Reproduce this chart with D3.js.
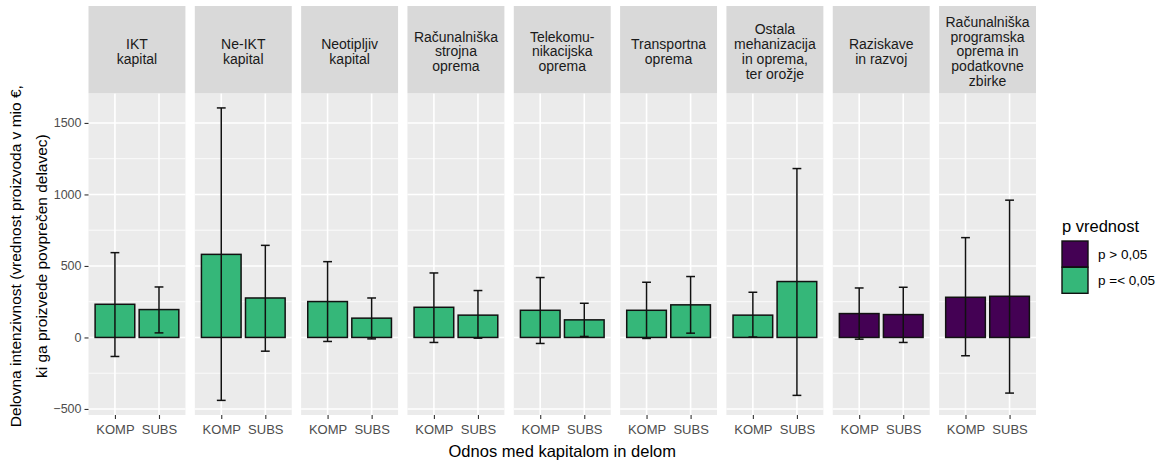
<!DOCTYPE html>
<html>
<head>
<meta charset="utf-8">
<script src="https://cdn.jsdelivr.net/npm/d3@7"></script>
<style>
  body { margin: 0; background: #fff; }
  text { font-family: "Liberation Sans", Arial, sans-serif; }
</style>
</head>
<body>
<div id="chart"></div>
<script>
// podatki, odčitani s slike
var facets = [
  ["IKT", "kapital"],
  ["Ne-IKT", "kapital"],
  ["Neotipljiv", "kapital"],
  ["Računalniška", "strojna", "oprema"],
  ["Telekomu-", "nikacijska", "oprema"],
  ["Transportna", "oprema"],
  ["Ostala", "mehanizacija", "in oprema,", "ter orožje"],
  ["Raziskave", "in razvoj"],
  ["Računalniška", "programska", "oprema in", "podatkovne", "zbirke"]
];
var groups = ["KOMP", "SUBS"];
var meanKomp = [232, 581, 251, 211, 190, 190, 156, 167, 281];
var meanSubs = [195, 276, 135, 156, 123, 228, 391, 160, 288];
var lowKomp = [-133, -440, -28, -35, -42, -7, 3, -12, -128];
var highKomp = [593, 1605, 530, 451, 419, 386, 316, 346, 698];
var lowSubs = [32, -96, -10, -5, 7, 30, -405, -35, -389];
var highSubs = [353, 644, 276, 328, 239, 426, 1181, 351, 960];
var pValue = ["p =< 0,05", "p =< 0,05", "p =< 0,05", "p =< 0,05", "p =< 0,05",
              "p =< 0,05", "p =< 0,05", "p > 0,05", "p > 0,05"];
var legendLabels = ["p > 0,05", "p =< 0,05"];
var yTicks = [-500, 0, 500, 1000, 1500];
var yMinor = [-250, 250, 750, 1250];

var width = 1162, height = 461;
var panelLeft = 88.5, panelRight = 1036, gap = 9.3;
var stripTop = 6, panelTop = 93.3, panelBottom = 415;

var svg = d3.select("#chart").append("svg")
  .attr("width", width)
  .attr("height", height);

// vrstice podatkov
var rows = [];
facets.forEach(function(f, i) {
  rows.push({ facet: i, group: "KOMP", mean: meanKomp[i], low: lowKomp[i], high: highKomp[i], p: pValue[i] });
  rows.push({ facet: i, group: "SUBS", mean: meanSubs[i], low: lowSubs[i], high: highSubs[i], p: pValue[i] });
});

var lo = d3.min(rows, d => d.low), hi = d3.max(rows, d => d.high);
var pad = (hi - lo) * 0.05;
var y = d3.scaleLinear().domain([lo - pad, hi + pad]).range([panelBottom, panelTop]);

var facetX = d3.scaleBand()
  .domain(d3.range(facets.length))
  .range([panelLeft, panelRight])
  .paddingInner(gap / ((panelRight - panelLeft) / facets.length));
var pw = facetX.bandwidth();

// diskretna os znotraj panela (ggplot razširitev 0.6)
var x = d3.scalePoint().domain(groups).range([pw * 0.6 / 2.2, pw * 1.6 / 2.2]);
var unit = pw / 2.2;

var color = d3.scaleOrdinal().domain(legendLabels).range(["#440154", "#35B779"]);

facets.forEach(function(lines, i) {
  var g = svg.append("g").attr("transform", "translate(" + facetX(i) + ",0)");

  g.append("rect")
    .attr("x", 0).attr("y", panelTop)
    .attr("width", pw).attr("height", panelBottom - panelTop)
    .attr("fill", "#EBEBEB");

  g.selectAll(".minor").data(yMinor).enter().append("line")
    .attr("x1", 0).attr("x2", pw)
    .attr("y1", d => y(d)).attr("y2", d => y(d))
    .attr("stroke", "#fff").attr("stroke-width", 0.8);

  g.selectAll(".major").data(yTicks).enter().append("line")
    .attr("x1", 0).attr("x2", pw)
    .attr("y1", d => y(d)).attr("y2", d => y(d))
    .attr("stroke", "#fff").attr("stroke-width", 1.6);

  g.selectAll(".vmajor").data(groups).enter().append("line")
    .attr("x1", d => x(d)).attr("x2", d => x(d))
    .attr("y1", panelTop).attr("y2", panelBottom)
    .attr("stroke", "#fff").attr("stroke-width", 1.6);

  // trak z imenom
  g.append("rect")
    .attr("x", 0).attr("y", stripTop)
    .attr("width", pw).attr("height", panelTop - stripTop)
    .attr("fill", "#D9D9D9");

  var lh = 14.8;
  var cy = 51.5 - (lines.length - 1) * lh / 2;
  g.append("text")
    .attr("text-anchor", "middle")
    .attr("font-size", 14)
    .attr("fill", "#1A1A1A")
    .selectAll("tspan").data(lines).enter().append("tspan")
    .attr("x", pw / 2)
    .attr("y", (d, j) => cy + j * lh)
    .attr("dy", "0.35em")
    .text(d => d);

  var data = rows.filter(r => r.facet === i);

  g.selectAll(".bar").data(data).enter().append("rect")
    .attr("x", d => x(d.group) - unit * 0.45)
    .attr("width", unit * 0.9)
    .attr("y", d => y(Math.max(0, d.mean)))
    .attr("height", d => Math.abs(y(d.mean) - y(0)))
    .attr("fill", d => color(d.p))
    .attr("stroke", "#111")
    .attr("stroke-width", 1.5);

  var eb = g.selectAll(".err").data(data).enter().append("g")
    .attr("stroke", "#111").attr("stroke-width", 1.5);
  eb.append("line")
    .attr("x1", d => x(d.group)).attr("x2", d => x(d.group))
    .attr("y1", d => y(d.low)).attr("y2", d => y(d.high));
  eb.append("line")
    .attr("x1", d => x(d.group) - unit * 0.1).attr("x2", d => x(d.group) + unit * 0.1)
    .attr("y1", d => y(d.low)).attr("y2", d => y(d.low));
  eb.append("line")
    .attr("x1", d => x(d.group) - unit * 0.1).attr("x2", d => x(d.group) + unit * 0.1)
    .attr("y1", d => y(d.high)).attr("y2", d => y(d.high));

  // os x
  var xa = g.append("g")
    .attr("transform", "translate(0," + panelBottom + ")")
    .call(d3.axisBottom(x).tickSize(4).tickPadding(6));
  xa.select(".domain").remove();
  xa.selectAll("line").attr("stroke", "#333").attr("stroke-width", 1.1);
  xa.selectAll("text").attr("font-size", 13).attr("fill", "#4D4D4D")
    .style("font-family", "Liberation Sans, Arial, sans-serif");
});

// os y
var ya = svg.append("g")
  .attr("transform", "translate(" + panelLeft + ",0)")
  .call(d3.axisLeft(y).tickValues(yTicks).tickFormat(d3.format("d")).tickSize(4).tickPadding(3));
ya.select(".domain").remove();
ya.selectAll("line").attr("stroke", "#333").attr("stroke-width", 1.1);
ya.selectAll("text").attr("font-size", 12.5).attr("fill", "#4D4D4D")
  .style("font-family", "Liberation Sans, Arial, sans-serif");

// naslovi osi
svg.append("text")
  .attr("x", (panelLeft + panelRight) / 2)
  .attr("y", 451)
  .attr("dy", "0.35em")
  .attr("text-anchor", "middle")
  .attr("font-size", 16.5)
  .attr("fill", "#000")
  .text("Odnos med kapitalom in delom");

var yTitle = svg.append("text")
  .attr("transform", "translate(0," + ((panelTop + panelBottom) / 2 + 2) + ") rotate(-90)")
  .attr("text-anchor", "middle")
  .attr("font-size", 15.5)
  .attr("fill", "#000");
yTitle.append("tspan").attr("x", 0).attr("y", 16).attr("dy", "0.35em")
  .text("Delovna intenzivnost (vrednost proizvoda v mio €,");
yTitle.append("tspan").attr("x", 0).attr("y", 42).attr("dy", "0.35em")
  .text("ki ga proizvede povprečen delavec)");

// legenda
var leg = svg.append("g").attr("transform", "translate(1062,0)");
leg.append("text")
  .attr("x", 0).attr("y", 226)
  .attr("dy", "0.35em")
  .attr("font-size", 16.5)
  .text("p vrednost");
var items = leg.selectAll(".item").data(legendLabels).enter().append("g")
  .attr("transform", (d, i) => "translate(0," + (241 + i * 26.3) + ")");
items.append("rect")
  .attr("width", 26).attr("height", 26)
  .attr("fill", d => color(d))
  .attr("stroke", "#111").attr("stroke-width", 1.4);
items.append("text")
  .attr("x", 36).attr("y", 13)
  .attr("dy", "0.35em")
  .attr("font-size", 13.5)
  .text(d => d);
</script>
</body>
</html>
